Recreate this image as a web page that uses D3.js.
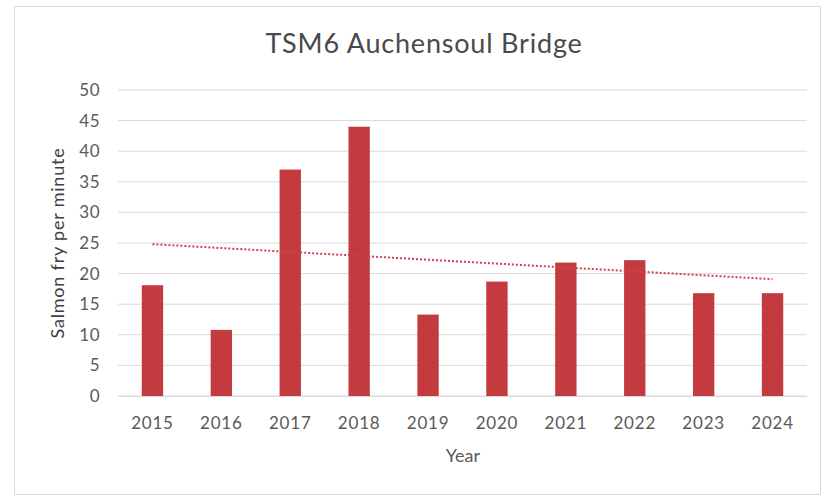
<!DOCTYPE html>
<html><head><meta charset="utf-8">
<script src="https://cdn.jsdelivr.net/npm/d3@7"></script>
<style>body{margin:0;background:#fff;} text{font-family:Lato,"Open Sans",sans-serif;}</style>
</head><body><svg id="c" width="830" height="497"></svg>
<script>
const years = ["2015","2016","2017","2018","2019","2020","2021","2022","2023","2024"];
const values = [18.1,10.8,37.0,44.0,13.3,18.7,21.8,22.2,16.8,16.8];
const yTicks = [0,5,10,15,20,25,30,35,40,45,50];
const title = "TSM6 Auchensoul Bridge";
const xTitle = "Year";
const yTitle = "Salmon fry per minute";

const svg = d3.select("#c");
svg.append("rect").attr("x",14.5).attr("y",6.5).attr("width",806).attr("height",488)
  .attr("fill","#fff").attr("stroke","#d9d9d9");

const m = {l:118, r:807, t:90, b:396};
const x = d3.scaleBand().domain(years).range([m.l,m.r]).paddingInner(0.69).paddingOuter(0.345);
const y = d3.scaleLinear().domain([0,50]).range([m.b,m.t]);

const g = svg.append("g");
g.selectAll("line.grid").data(yTicks).join("line").attr("class","grid")
  .attr("x1",m.l).attr("x2",m.r).attr("y1",d=>y(d)).attr("y2",d=>y(d))
  .attr("stroke","#d9d9d9").attr("stroke-width",1);

const yAxis = d3.axisLeft(y).tickValues(yTicks).tickSize(0).tickPadding(18);
const ya = svg.append("g").attr("transform",`translate(${m.l},0)`).call(yAxis);
ya.select(".domain").remove();
ya.selectAll("text").attr("fill","#595959").style("font-size","17px").style("letter-spacing","0.5px");

g.selectAll("rect.bar").data(values).join("rect").attr("class","bar")
  .attr("x",(d,i)=>x(years[i])).attr("width",x.bandwidth())
  .attr("y",d=>y(d)).attr("height",d=>y(0)-y(d)).attr("fill","#c33b3e");

const xAxis = d3.axisBottom(x).tickSize(0).tickPadding(21);
const xa = svg.append("g").attr("transform",`translate(0,${m.b})`).call(xAxis);
xa.select(".domain").attr("stroke","#d9d9d9");
xa.selectAll("text").attr("fill","#595959").style("font-size","17px").style("letter-spacing","0.8px");

// linear trendline (least squares) computed from values
const n = values.length;
const mx = d3.mean(values,(d,i)=>i), my = d3.mean(values);
const slope = d3.sum(values,(d,i)=>(i-mx)*(d-my))/d3.sum(values,(d,i)=>(i-mx)*(i-mx));
const icpt = my - slope*mx;
const cx = i => x(years[i]) + x.bandwidth()/2;
svg.append("line").attr("x1",cx(0)).attr("x2",cx(n-1))
  .attr("y1",y(icpt)).attr("y2",y(icpt+slope*(n-1)))
  .attr("stroke","#d2404f").attr("stroke-width",2).attr("stroke-dasharray","2,2");

svg.append("text").attr("x",424).attr("y",53).attr("text-anchor","middle")
  .attr("fill","#4a4a4a").style("font-size","27px").style("letter-spacing","0.8px").text(title);
svg.append("text").attr("x",463).attr("y",462).attr("text-anchor","middle")
  .attr("fill","#595959").style("font-size","18px").text(xTitle);
svg.append("text").attr("transform",`translate(64,243) rotate(-90)`)
  .attr("text-anchor","middle").attr("fill","#404040").style("font-size","18px").style("letter-spacing","0.8px").text(yTitle);
</script></body></html>
